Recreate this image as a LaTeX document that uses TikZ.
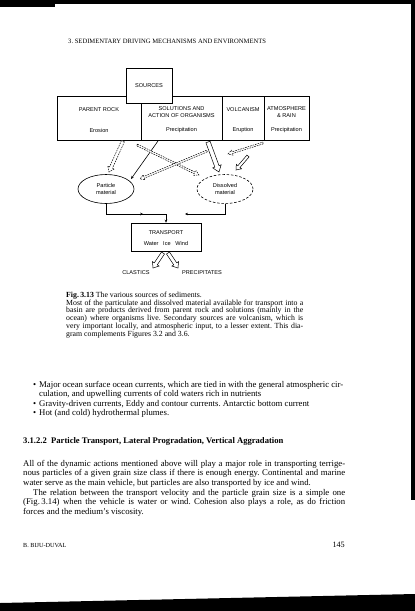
\documentclass[tikz,border=0pt]{standalone}
\usepackage{fontspec}
\setmainfont{Liberation Serif}
\newfontfamily\diagfont{Liberation Sans}
\usetikzlibrary{calc,arrows.meta,shapes.geometric,decorations.markings}
\frenchspacing
\newcommand\hollowarr[6]{%
  \path ($(#3)!#6!(#2)$) coordinate (ha-c);
  \draw[#1] ($(#2)!#4!90:(#3)$) -- ($(ha-c)!#4!90:(#3)$) -- ($(ha-c)!#5!90:(#3)$) -- (#3)
    -- ($(ha-c)!#5!-90:(#3)$) -- ($(ha-c)!#4!-90:(#3)$) -- ($(#2)!#4!-90:(#3)$) -- cycle;}
\begin{document}
\begin{tikzpicture}[x=1pt,y=-1pt,
  box/.style={draw, line width=0.6pt, fill=white, inner sep=0pt},
  lbl/.style={font=\diagfont\fontsize{5.6}{6.6}\selectfont, align=center, inner sep=0pt},
  ell/.style={ellipse, draw, line width=0.6pt, minimum width=56pt, minimum height=29pt, inner sep=0pt, font=\diagfont\fontsize{5.6}{6.6}\selectfont, align=center},
  conn/.style={line width=0.6pt},
  tip/.style={-{Stealth[length=3pt,width=2.6pt]}},
  hol/.style={draw, line width=0.5pt, fill=white, line join=miter},
  holdash/.style={hol, dash pattern=on 1.6pt off 1pt},
  body/.style={font=\fontsize{8.75}{9.6}\selectfont, text width=322pt, align=justify, inner sep=0pt, anchor=north west},
  scan/.style={fill=black, draw=none},
]
\useasboundingbox (0,0) rectangle (415,611);
\fill[white] (0,0) rectangle (415,611);
% scan borders
\fill[scan] (0,0) rectangle (415,4);
\fill[scan] (0,0) rectangle (55,7);
\fill[scan] (411,0) rectangle (415,500);
\fill[scan] (0,603) -- (415,594) -- (415,611) -- (0,611) -- cycle;

% running head
\node[anchor=west, inner sep=0pt, font=\fontsize{6.6}{7}\selectfont] (head) at (68,41) {3. SEDIMENTARY DRIVING MECHANISMS AND ENVIRONMENTS};

% source row
\node[box, minimum width=84pt, minimum height=44pt] (pr) at (99,118) {};
\node[box, minimum width=81pt, minimum height=44pt] (so) at (181.5,118) {};
\node[box, minimum width=42pt, minimum height=44pt] (vo) at (243,118) {};
\node[box, minimum width=45pt, minimum height=44pt] (at) at (286.5,118) {};
\node[box, minimum width=46pt, minimum height=35pt] (src) at (149,85.5) {};
\node[lbl] (srct) at (149,86) {SOURCES};
\node[lbl] (prt) at (99,110) {PARENT ROCK};
\node[lbl] (prb) at (99,130) {Erosion};
\node[lbl] (sot) at (181.5,112) {SOLUTIONS AND\\ACTION OF ORGANISMS};
\node[lbl] (sob) at (181.5,130) {Precipitation};
\node[lbl] (vot) at (243,110) {VOLCANISM};
\node[lbl] (vob) at (243,130) {Eruption};
\node[lbl] (att) at (286.5,112) {ATMOSPHERE\\\& RAIN};
\node[lbl] (atb) at (286.5,130) {Precipitation};

% materials
\node[ell] (P) at (106,189) {Particle\\material};
\node[ell, dash pattern=on 2.5pt off 1.8pt] (D) at (225,189) {Dissolved\\material};

% transport
\node[box, minimum width=70pt, minimum height=28pt] (T) at (166,237) {};
\node[lbl] (Tt) at (166,233) {TRANSPORT};
\node[lbl] (Tb) at (166,243) {Water~~~Ice~~~Wind};

% connection points
\coordinate (a1) at (123,141); \coordinate (a2) at (109,172);
\coordinate (b1) at (158,141); \coordinate (b2) at (131,179);
\coordinate (c1) at (137,145); \coordinate (c2) at (199,175);
\coordinate (d1) at (207,151); \coordinate (d2) at (140,179);
\coordinate (e1) at (208,142); \coordinate (e2) at (219,172);
\coordinate (f1) at (263,143); \coordinate (f2) at (228,154);
\coordinate (g1) at (248,156); \coordinate (g2) at (236,170);
\coordinate (pj) at (166,214); \coordinate (dj) at (185,214);
\coordinate (o0) at (163,253); \coordinate (o1) at (153,268);
\coordinate (o2) at (168,253); \coordinate (o3) at (178,268);

% arrows sources -> materials
\hollowarr{holdash}{a1}{a2}{1.6pt}{3.6pt}{5pt}
\draw[conn, tip] (b1) -- (b2);
\hollowarr{holdash}{c1}{c2}{0.9pt}{2.6pt}{4.5pt}
\hollowarr{holdash}{d1}{d2}{0.9pt}{2.6pt}{4.5pt}
\hollowarr{hol}{e1}{e2}{2.2pt}{4.5pt}{6pt}
\hollowarr{holdash}{f1}{f2}{0.9pt}{2.6pt}{4.5pt}
\hollowarr{hol}{g1}{g2}{1.4pt}{3.4pt}{4.5pt}

% materials -> transport
\draw[conn, tip, postaction={decorate}, decoration={markings, mark=at position 0.6 with {\arrow{Stealth[length=3pt,width=2.6pt]}}}] (P.south) |- (pj) -- (T.north);
\draw[conn, tip] (D.south) |- (dj);

% outputs
\hollowarr{hol}{o0}{o1}{1.8pt}{4pt}{5pt}
\hollowarr{hol}{o2}{o3}{1.8pt}{4pt}{5pt}
\node[lbl] (cl) at (136,273) {CLASTICS};
\node[lbl] (pc) at (202,273) {PRECIPITATES};

% caption
\node[anchor=north west, inner sep=0pt, text width=237pt, align=justify, font=\fontsize{7.8}{7.9}\selectfont] (cap) at (66,291.5) {\textbf{Fig.\,3.13} The various sources of sediments.\\
Most of the particulate and dissolved material available for transport into a\linebreak basin are products derived from parent rock and solutions (mainly in the\linebreak ocean) where organisms live. Secondary sources are volcanism, which is\linebreak very important locally, and atmospheric input, to a lesser extent. This dia-\linebreak gram complements Figures 3.2 and 3.6.};

% bullets
\node[anchor=north west, inner sep=0pt, text width=310pt, align=justify, font=\fontsize{8.75}{9.5}\selectfont] (bul) at (33,381) {%
\hangindent=6pt\hangafter=1\makebox[6pt][l]{\textbullet}Major ocean surface ocean currents, which are tied in with the general atmospheric cir-\linebreak culation, and upwelling currents of cold waters rich in nutrients\par
\hangindent=6pt\hangafter=1\makebox[6pt][l]{\textbullet}Gravity-driven currents, Eddy and contour currents. Antarctic bottom current\par
\hangindent=6pt\hangafter=1\makebox[6pt][l]{\textbullet}Hot (and cold) hydrothermal plumes.};

% section heading
\node[anchor=west, inner sep=0pt, font=\bfseries\fontsize{8.6}{10}\selectfont] (sec) at (23,441) {3.1.2.2\enspace Particle Transport, Lateral Progradation, Vertical Aggradation};

% body text
\node[body] (p1) at (23,460) {All of the dynamic actions mentioned above will play a major role in transporting terrige-\linebreak nous particles of a given grain size class if there is enough energy. Continental and marine\linebreak water serve as the main vehicle, but particles are also transported by ice and wind.\par
\hspace*{10pt}The relation between the transport velocity and the particle grain size is a simple one\linebreak (Fig.\,3.14) when the vehicle is water or wind. Cohesion also plays a role, as do friction\linebreak forces and the medium's viscosity.};

% footer
\node[anchor=west, inner sep=0pt, font=\fontsize{6.2}{7}\selectfont] (ft) at (23,545) {B. BIJU-DUVAL};
\node[anchor=east, inner sep=0pt, font=\fontsize{8.2}{9}\selectfont] (pg) at (345,545) {145};
\end{tikzpicture}
\end{document}
